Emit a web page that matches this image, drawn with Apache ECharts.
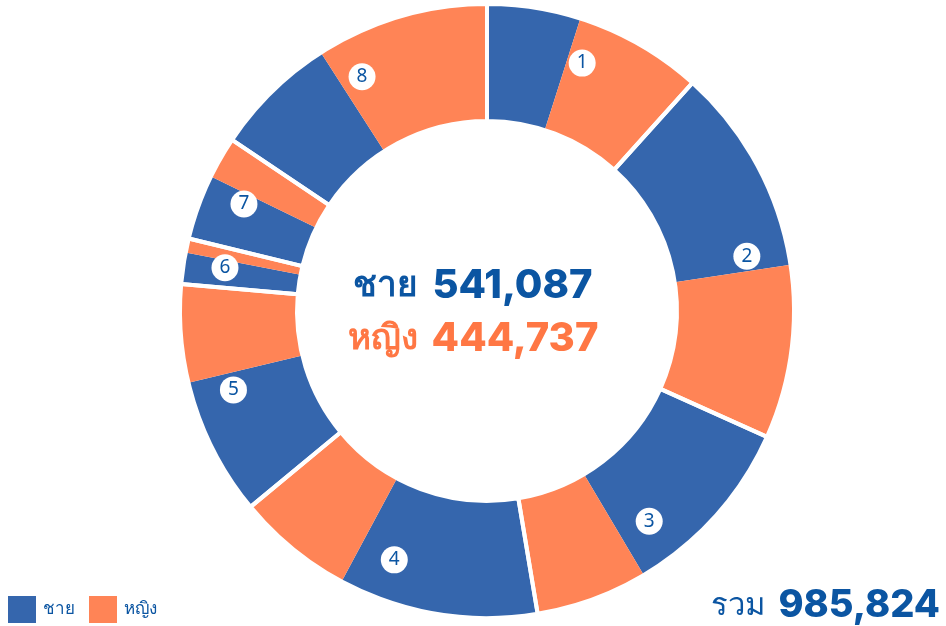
<!DOCTYPE html>
<html>
<head>
<meta charset="utf-8">
<script src="https://cdn.jsdelivr.net/npm/echarts@6/dist/echarts.min.js"></script>
<style>
  html, body { margin: 0; padding: 0; background: #fff; }
  #chart { width: 946px; height: 626px; }
</style>
</head>
<body>
<div id="chart"></div>
<script>
  // groups 1..8, each one male + one female slice
  const groups = ['1', '2', '3', '4', '5', '6', '7', '8']
  const maleVals = [48470, 107700, 96118, 103411, 71472, 16157, 33682, 64077]
  const femaleVals = [66543, 90015, 58054, 60519, 50934, 7394, 21633, 89645]
  const seriesNames = ['ชาย', 'หญิง']

  const BLUE = '#3566ad'
  const ORANGE = '#ff8456'
  const TEXT_BLUE = '#0b55a2'
  const TEXT_ORANGE = '#ff7744'

  const maleTotal = maleVals.reduce((a, b) => a + b, 0)
  const femaleTotal = femaleVals.reduce((a, b) => a + b, 0)
  const total = maleTotal + femaleTotal
  const fmt = v => v.toLocaleString('en-US')

  let slices = []
  let groupSums = []
  let labelPts = []
  let acc = 0
  groups.forEach((g, i) => {
    let sum = maleVals[i] + femaleVals[i]
    slices.push({ name: seriesNames[0] + ' ' + g, value: maleVals[i], itemStyle: { color: BLUE } })
    slices.push({ name: seriesNames[1] + ' ' + g, value: femaleVals[i], itemStyle: { color: ORANGE } })
    groupSums.push({ name: g, value: sum })
    // number badge sits in the middle of its group
    labelPts.push({ value: [0.865, acc + sum / 2], name: g })
    acc += sum
  })

  const cx = 487, cy = 311, R = 307, r0 = 190

  let chart = echarts.init(document.getElementById('chart'))
  chart.setOption({
    backgroundColor: '#ffffff',
    animation: false,
    polar: { center: [cx, cy], radius: R },
    angleAxis: {
      type: 'value', min: 0, max: total, startAngle: 90, clockwise: true,
      show: false, axisLine: { show: false }, splitLine: { show: false }
    },
    radiusAxis: { type: 'value', min: 0, max: 1, show: false, splitLine: { show: false } },
    legend: {
      left: 8, bottom: 3, padding: 0,
      icon: 'rect',
      itemWidth: 28, itemHeight: 27, itemGap: 14,
      data: [
        { name: seriesNames[0], itemStyle: { color: BLUE } },
        { name: seriesNames[1], itemStyle: { color: ORANGE } }
      ],
      textStyle: { color: TEXT_BLUE, fontSize: 17, fontFamily: 'Noto Sans, sans-serif', padding: [0, 0, 0, 2] },
      selectedMode: false
    },
    series: [
      {
        type: 'pie',
        center: [cx, cy],
        radius: [r0, R],
        startAngle: 90,
        clockwise: true,
        silent: true,
        label: { show: false },
        labelLine: { show: false },
        data: slices
      },
      {
        // white separators between groups
        type: 'pie',
        center: [cx, cy],
        radius: [r0, R],
        startAngle: 90,
        clockwise: true,
        silent: true,
        label: { show: false },
        labelLine: { show: false },
        itemStyle: { color: 'rgba(0,0,0,0)', borderColor: '#ffffff', borderWidth: 4 },
        data: groupSums
      },
      // legend hooks
      { name: seriesNames[0], type: 'pie', radius: 0, data: [], itemStyle: { color: BLUE } },
      { name: seriesNames[1], type: 'pie', radius: 0, data: [], itemStyle: { color: ORANGE } },
      {
        type: 'scatter',
        coordinateSystem: 'polar',
        symbol: 'circle',
        symbolSize: 27,
        silent: true,
        z: 10,
        itemStyle: { color: '#ffffff', opacity: 1 },
        label: {
          show: true, position: 'inside',
          formatter: p => p.name,
          color: TEXT_BLUE, fontSize: 19, fontFamily: 'Noto Sans, sans-serif'
        },
        data: labelPts
      }
    ],
    graphic: [
      {
        type: 'text', left: 'center', top: 266,
        style: {
          rich: {
            a: { fontSize: 35, fontFamily: 'Noto Sans, sans-serif', fontWeight: 'bold', fill: TEXT_BLUE, padding: [0, 14, 0, 0] },
            b: { fontSize: 40, fontFamily: 'Inter, sans-serif', fontWeight: 800, fill: TEXT_BLUE }
          },
          text: '{a|' + seriesNames[0] + '}{b|' + fmt(maleTotal) + '}'
        }
      },
      {
        type: 'text', left: 'center', top: 319,
        style: {
          rich: {
            a: { fontSize: 35, fontFamily: 'Noto Sans, sans-serif', fontWeight: 'bold', fill: TEXT_ORANGE, padding: [0, 14, 0, 0] },
            b: { fontSize: 40, fontFamily: 'Inter, sans-serif', fontWeight: 800, fill: TEXT_ORANGE }
          },
          text: '{a|' + seriesNames[1] + '}{b|' + fmt(femaleTotal) + '}'
        }
      },
      {
        type: 'text', right: 6, bottom: 1,
        style: {
          rich: {
            a: { fontSize: 31, fontFamily: 'Noto Sans, sans-serif', fill: TEXT_BLUE, padding: [0, 13, 0, 0] },
            b: { fontSize: 38, fontFamily: 'Inter, sans-serif', fontWeight: 800, fill: TEXT_BLUE }
          },
          text: '{a|รวม}{b|' + fmt(total) + '}'
        }
      }
    ]
  })
</script>
</body>
</html>
